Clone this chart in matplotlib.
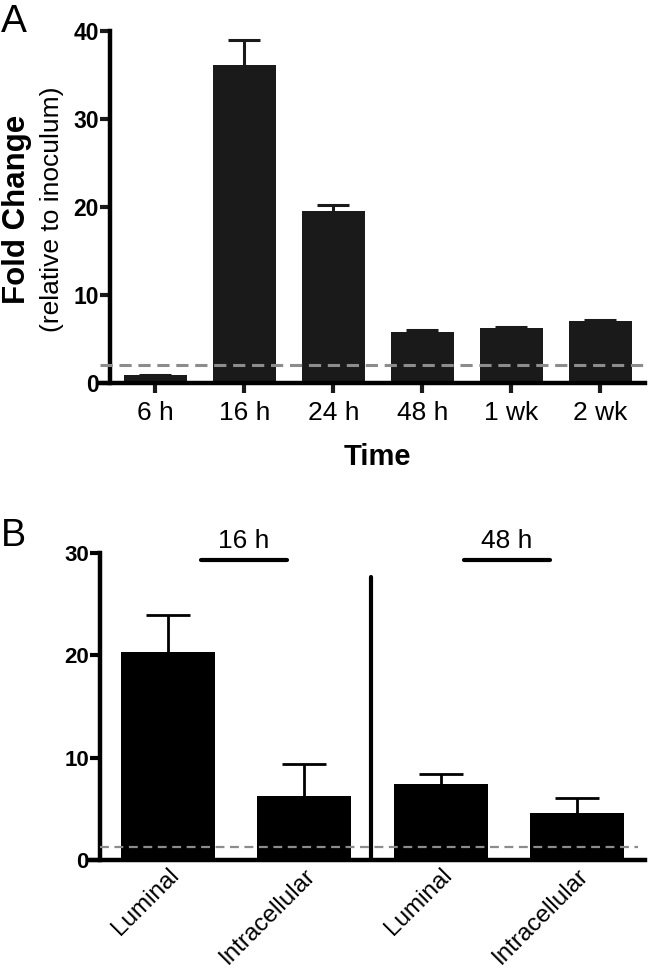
import numpy as np
import matplotlib.pyplot as plt

plt.rcParams['font.family'] = ['Liberation Sans', 'DejaVu Sans']

# %% Data - panel A (time course)
times = ['6 h', '16 h', '24 h', '48 h', '1 wk', '2 wk']
fold_a = [0.9, 36.1, 19.5, 5.8, 6.2, 7.05]
err_a = [0.05, 2.85, 0.7, 0.2, 0.1, 0.05]
threshold_a = 2.0
yticks_a = [0, 10, 20, 30, 40]

# %% Data - panel B (luminal vs intracellular)
compartments = ['Luminal', 'Intracellular', 'Luminal', 'Intracellular']
fold_b = [20.3, 6.25, 7.4, 4.6]
err_b = [3.6, 3.15, 1.0, 1.5]
threshold_b = 1.3
groups = ['16 h', '48 h']
yticks_b = [0, 10, 20, 30]

fig = plt.figure(figsize=(6.5, 9.73), dpi=100)

# %% Panel A
axA = fig.add_axes([0.1538, 0.6064, 0.8385, 0.3621])
xa = np.arange(len(times))
axA.bar(xa, fold_a, width=0.71, color='#1a1a1a', zorder=2)
eb = axA.errorbar(xa, fold_a, yerr=[np.zeros(len(err_a)), err_a], fmt='none',
                  ecolor='#1a1a1a', elinewidth=2.2, capsize=11.5, capthick=2.2,
                  zorder=1)
eb[1][0].set_visible(False)  # only upper caps
axA.axhline(threshold_a, color='#8c8c8c', lw=2.2, dashes=(4, 2.2), zorder=3)
axA.set_xlim(-0.62, 5.5)
axA.set_ylim(0, 40)
axA.spines['left'].set_position(('data', -0.506))
axA.spines['top'].set_visible(False)
axA.spines['right'].set_visible(False)
for s in ['left', 'bottom']:
    axA.spines[s].set_linewidth(3.2)
axA.tick_params(axis='both', width=3, length=7, color='#1a1a1a')
axA.tick_params(axis='x', pad=6)
axA.tick_params(axis='y', pad=1)
axA.set_xticks(xa, times, fontsize=19)
axA.set_yticks(yticks_a, [str(v) for v in yticks_a], fontsize=16.5,
               fontweight='bold')

fig.text(0.026, 0.785, 'Fold Change', rotation=90, ha='center', va='center',
         fontsize=22.5, fontweight='bold')
fig.text(0.08, 0.785, '(relative to inoculum)', rotation=90, ha='center',
         va='center', fontsize=19)
fig.text(377 / 650, 1 - 457 / 973, 'Time', ha='center', va='center',
         fontsize=21, fontweight='bold')
fig.text(0.002, 0.996, 'A', ha='left', va='top', fontsize=28)

# %% Panel B
axB = fig.add_axes([0.1385, 0.1161, 0.8538, 0.3158])
xb = np.arange(len(compartments))
axB.bar(xb, fold_b, width=0.69, color='black', zorder=2)
eb = axB.errorbar(xb, fold_b, yerr=[np.zeros(len(err_b)), err_b], fmt='none',
                  ecolor='black', elinewidth=2.0, capsize=16, capthick=2.0,
                  zorder=1)
eb[1][0].set_visible(False)
axB.plot([-0.5, 3.45], [threshold_b, threshold_b], color='#8c8c8c', lw=1.6,
         dashes=(4, 2.5), zorder=3)
axB.plot([1.485, 1.485], [0, 27.6], color='black', lw=3, clip_on=False,
         solid_capstyle='round')
axB.set_xlim(-0.574, 3.5)
axB.set_ylim(0, 30)
axB.spines['left'].set_position(('data', -0.5))
axB.spines['top'].set_visible(False)
axB.spines['right'].set_visible(False)
for s in ['left', 'bottom']:
    axB.spines[s].set_linewidth(3.2)
axB.tick_params(axis='x', length=0, pad=3)
axB.tick_params(axis='y', width=3, length=7, pad=1)
axB.set_xticks(xb, compartments, fontsize=17.5, rotation=45, ha='right',
               rotation_mode='anchor')
axB.set_yticks(yticks_b, [str(v) for v in yticks_b], fontsize=16,
               fontweight='bold')

# group bars above
for (x0, x1), g in zip([(0.24, 0.87), (2.17, 2.8)], groups):
    axB.plot([x0, x1], [29.3, 29.3], color='black', lw=3, clip_on=False,
             solid_capstyle='round')
    axB.text((x0 + x1) / 2, 30.0, g, ha='center', va='bottom', fontsize=19,
             clip_on=False)

fig.text(0.002, 1 - 518 / 973, 'B', ha='left', va='top', fontsize=27)

fig.savefig('out.png', dpi=100)
